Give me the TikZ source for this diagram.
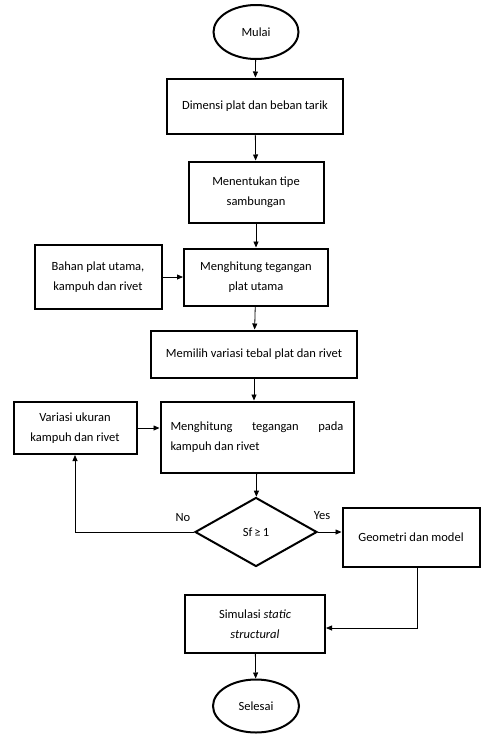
\documentclass[tikz,border=0pt]{standalone}
\usepackage{fontspec}
\setmainfont{Carlito}
\usetikzlibrary{positioning,arrows.meta,shapes.geometric}

\begin{document}
\begin{tikzpicture}[
  x=1pt, y=-1pt,
  every node/.style={font=\fontsize{12.5}{20}\selectfont},
  proc/.style={rectangle, draw, line width=2pt, align=center, inner sep=2pt},
  term/.style={ellipse, draw, line width=2pt, inner sep=0pt},
  dec/.style={diamond, draw, line width=2pt, inner sep=0pt},
  flow/.style={-{Triangle[length=6pt,width=5pt]}, line width=0.8pt},
  lbl/.style={inner sep=1pt}
]
\useasboundingbox (0,0) rectangle (481,734);

% main column
\node[term, minimum width=85pt, minimum height=54pt] (start) at (256,32) {Mulai};
\node[proc, minimum width=176pt, minimum height=55pt] (dim) at (255,106) {Dimensi plat dan beban tarik};
\node[proc, minimum width=135pt, minimum height=61pt] (tipe) at (256,192) {Menentukan tipe\\sambungan};
\node[proc, minimum width=144pt, minimum height=57pt] (plat) at (256,277) {Menghitung tegangan\\plat utama};
\node[proc, minimum width=206pt, minimum height=47pt] (pilih) at (254,354) {Memilih variasi tebal plat dan rivet};
\node[proc, minimum width=193pt, minimum height=71pt, text width=173pt, align=justify] (kamp) at (257,437)
  {Menghitung tegangan pada \mbox{kampuh} dan rivet};
\node[dec, minimum width=122pt, minimum height=69pt] (sf) at (256,532) {Sf\,≥\,1};
\node[proc, minimum width=140pt, minimum height=58pt] (sim) at (255,624) {Simulasi \textit{static}\\\textit{structural}};
\node[term, minimum width=86pt, minimum height=53pt] (stop) at (256,706) {Selesai};

% side boxes
\node[proc, minimum width=127pt, minimum height=64pt] (bahan) at (98,277) {Bahan plat utama,\\kampuh dan rivet};
\node[proc, minimum width=123pt, minimum height=52pt] (var) at (75,428) {Variasi ukuran\\kampuh dan rivet};
\node[proc, minimum width=137pt, minimum height=59pt] (geo) at (411,537) {Geometri dan model};

% branch labels
\node[lbl] (no) at (183,518) {No};
\node[lbl] (yes) at (322,516) {Yes};

% connectors
\draw[flow] (start) -- (dim);
\draw[flow] (dim) -- (tipe);
\draw[flow] (tipe) -- (plat);
\draw[flow] (bahan) -- (plat);
\draw[flow] (plat) -- (pilih);
\draw[flow] (pilih) -- (kamp.north -| pilih.south);
\draw[flow] (var.east) -- (var.east -| kamp.west);
\draw[flow] (kamp) -- (sf);
\draw[flow] (sf.west) -| (var.south);
\draw[flow] (sf.east) -- (sf.east -| geo.west);
\draw[flow] ([xshift=6pt]geo.south) |- ([yshift=-4pt]sim.east);
\draw[flow] (sim) -- (stop);
\end{tikzpicture}
\end{document}
